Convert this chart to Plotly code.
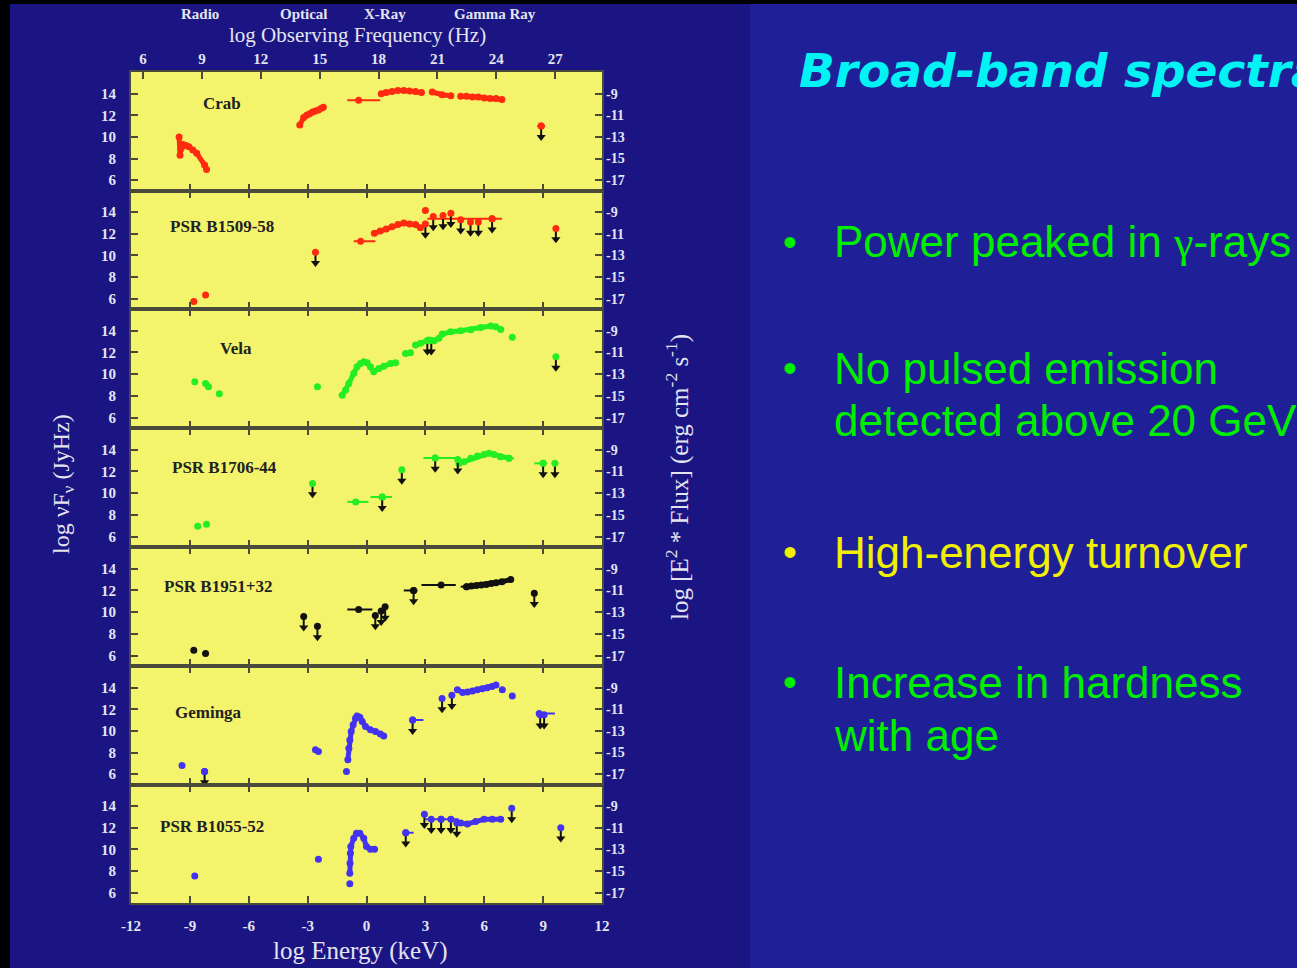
import plotly.graph_objects as go

# ---------------- data (log Energy keV, log nuFnu Jy Hz) ----------------
PANEL_NAMES = ["Crab", "PSR B1509-58", "Vela", "PSR B1706-44", "PSR B1951+32", "Geminga", "PSR B1055-52"]
PANEL_COLORS = ["#ff2a10", "#ff2a10", "#22ee22", "#22ee22", "#111111", "#4433ee", "#4433ee"]
LABEL_X = [-7.35, -7.35, -6.65, -7.25, -7.55, -8.05, -7.85]
LABEL_Y = [13.1, 12.65, 12.4, 12.4, 12.4, 11.7, 12.1]

E_TICKS = [-12, -9, -6, -3, 0, 3, 6, 9, 12]
E_TICKTEXT = ["-12", "-9", "-6", "-3", "0", "3", "6", "9", "12"]
NU_TICKS = [6, 9, 12, 15, 18, 21, 24, 27]
LEFT_TICKS = [14, 12, 10, 8, 6]
RIGHT_TICKS = [-9, -11, -13, -15, -17]
RIGHT_TICKTEXT = ["-9", "-11", "-13", "-15", "-17"]
BANDS = ["Radio", "Optical", "X-Ray", "Gamma Ray"]
BAND_NU = [8.9, 14.2, 18.35, 23.95]

# Crab
crab_x = [-9.55, -9.5, -9.45, -9.35, -9.2, -9.05, -8.85, -8.65, -8.25, -8.15, None,
          -3.4, -3.2, -3.05, -2.9, -2.75, -2.6, -2.45, -2.3, -2.2, None,
          0.75, 1.0, 1.3, 1.6, 1.9, 2.2, 2.5, 2.8, None, 3.35, 3.85, 4.3, None,
          4.8, 5.1, 5.4, 5.7, 6.0, 6.3, 6.6, 6.9]
crab_y = [10.0, 8.3, 8.9, 9.3, 9.2, 9.1, 8.8, 8.5, 7.4, 7.0, None,
          11.1, 11.8, 12.0, 12.15, 12.3, 12.4, 12.5, 12.65, 12.75, None,
          14.0, 14.1, 14.2, 14.3, 14.3, 14.25, 14.2, 14.1, None, 14.15, 13.9, 13.8, None,
          13.75, 13.75, 13.7, 13.7, 13.6, 13.55, 13.55, 13.45]
crab_bx = [-0.4, 8.9]
crab_by = [13.4, 11.0]
crab_blo = [0.58, 0.2]
crab_bhi = [1.1, 0.2]
crab_ulx = [8.9]
crab_uly = [11.0]

# PSR B1509-58
b1509_x = [-8.8, None, -8.2, None,
           0.4, 0.7, 1.0, 1.3, 1.6, 1.9, 2.2, 2.5, 2.75, None, 3.0]
b1509_y = [5.75, None, 6.35, None,
           12.05, 12.25, 12.45, 12.65, 12.85, 13.0, 12.9, 12.85, 12.55, None, 14.15]
b1509_bx = [-0.3, 6.4]
b1509_by = [11.3, 13.4]
b1509_blo = [0.35, 3.3]
b1509_bhi = [0.75, 0.5]
b1509_ulx = [-2.6, 3.0, 3.4, 3.9, 4.3, 4.8, 5.3, 5.7, 6.4, 9.65]
b1509_uly = [10.3, 12.9, 13.6, 13.7, 13.9, 13.3, 13.1, 13.1, 13.4, 12.5]

# Vela
vela_x = [-8.75, None, -8.2, -8.05, None, -7.5, None, -2.5, None,
          -1.24, -1.07, -0.9, -0.65, -0.48, -0.31, -0.14, 0.03, 0.2, 0.37, 0.63, 0.88, 1.22, 1.48, None,
          1.99, 2.24, None, 2.5, 2.76, 3.18, 3.44, 3.69, 3.86, 4.29, 4.8, 5.31, 5.82, 6.33, 6.58, 6.84, None, 7.43]
vela_y = [9.3, None, 9.15, 8.85, None, 8.2, None, 8.85, None,
          8.07, 8.53, 9.14, 10.07, 10.68, 10.99, 11.14, 11.05, 10.68, 10.22, 10.53, 10.74, 10.99, 11.05, None,
          11.9, 11.97, None, 12.68, 12.84, 13.14, 13.08, 13.3, 13.69, 13.9, 14.0, 14.1, 14.3, 14.43, 14.37, 14.12, None, 13.39]
vela_bx = []
vela_by = []
vela_blo = []
vela_bhi = []
vela_ulx = [3.1, 3.3, 9.65]
vela_uly = [13.1, 13.1, 11.6]

# PSR B1706-44
b1706_x = [-8.6, None, -8.15, None,
           4.71, 4.97, 5.31, 5.65, 5.99, 6.24, 6.5, 6.84, 7.26]
b1706_y = [6.95, None, 7.15, None,
           12.74, 12.9, 13.21, 13.42, 13.57, 13.67, 13.57, 13.36, 13.21]
b1706_bx = [-0.55, 0.8, 3.5, 7.26, 9.0]
b1706_by = [9.2, 9.65, 13.25, 13.21, 12.75]
b1706_blo = [0.42, 0.6, 0.6, 0.6, 0.45]
b1706_bhi = [0.65, 0.5, 1.1, 0.25, 0.2]
b1706_ulx = [-2.75, 0.8, 1.8, 3.5, 4.65, 9.0, 9.6]
b1706_uly = [10.9, 9.65, 12.15, 13.25, 13.1, 12.75, 12.75]

# PSR B1951+32
b1951_x = [-8.8, None, -8.2, None,
           5.1, 5.35, 5.6, 5.85, 6.1, 6.35, 6.6, 6.9, 7.35]
b1951_y = [6.5, None, 6.2, None,
           12.35, 12.4, 12.45, 12.5, 12.55, 12.65, 12.7, 12.8, 13.0]
b1951_bx = [-0.4, 2.4, 3.8, 5.1]
b1951_by = [10.25, 12.0, 12.5, 12.35]
b1951_blo = [0.58, 0.5, 1.0, 0.3]
b1951_bhi = [0.7, 0.2, 0.75, 0.0]
b1951_ulx = [-3.2, -2.5, 0.45, 0.75, 0.95, 2.4, 8.55]
b1951_uly = [9.6, 8.7, 9.7, 10.1, 10.5, 12.0, 11.75]

# Geminga
gem_x = [-9.4, None, -2.6, -2.45, None,
         -1.02, None, -0.95, -0.9, -0.85, -0.78, -0.68, -0.56, -0.48, -0.34, -0.22, -0.05, 0.2, 0.46, 0.71, 0.88, None,
         4.63, 4.9, 5.15, 5.4, 5.65, 5.9, 6.15, 6.4, 6.6, None, 6.92, None, 7.43]
gem_y = [6.8, None, 8.25, 8.1, None,
         6.25, None, 7.33, 8.41, 9.17, 9.94, 10.56, 11.17, 11.39, 11.27, 10.86, 10.4, 10.1, 9.94, 9.72, 9.53, None,
         13.8, 13.55, 13.6, 13.7, 13.8, 13.9, 14.0, 14.1, 14.25, None, 13.8, None, 13.23]
gem_bx = [-8.25, 2.35, 8.8]
gem_by = [6.25, 11.0, 11.6]
gem_blo = [0.15, 0.1, 0.1]
gem_bhi = [0.15, 0.55, 0.8]
gem_ulx = [-8.25, 2.35, 3.85, 4.35, 8.85, 9.05]
gem_uly = [6.25, 11.0, 13.0, 13.3, 11.5, 11.5]

# PSR B1055-52
b1055_x = [-8.75, None, -2.45, None,
           -0.85, None, -0.85, -0.84, -0.82, -0.8, -0.65, -0.51, -0.34, -0.14, 0.0, 0.2, 0.41, None,
           4.8, 5.14, 5.56, 5.99, 6.41, 6.84]
b1055_y = [7.55, None, 9.1, None,
           6.82, None, 7.8, 8.72, 9.65, 10.26, 11.03, 11.5, 11.5, 11.03, 10.26, 10.02, 10.02, None,
           12.45, 12.36, 12.57, 12.79, 12.79, 12.79]
b1055_bx = [2.0, 3.8]
b1055_by = [11.55, 12.8]
b1055_blo = [0.1, 0.8]
b1055_bhi = [0.4, 0.9]
b1055_ulx = [2.0, 2.95, 3.3, 3.8, 4.3, 4.6, 7.4, 9.9]
b1055_uly = [11.55, 13.25, 12.8, 12.8, 12.8, 12.45, 13.8, 12.0]

SERIES = [
    (crab_x, crab_y, crab_bx, crab_by, crab_blo, crab_bhi, crab_ulx, crab_uly),
    (b1509_x, b1509_y, b1509_bx, b1509_by, b1509_blo, b1509_bhi, b1509_ulx, b1509_uly),
    (vela_x, vela_y, vela_bx, vela_by, vela_blo, vela_bhi, vela_ulx, vela_uly),
    (b1706_x, b1706_y, b1706_bx, b1706_by, b1706_blo, b1706_bhi, b1706_ulx, b1706_uly),
    (b1951_x, b1951_y, b1951_bx, b1951_by, b1951_blo, b1951_bhi, b1951_ulx, b1951_uly),
    (gem_x, gem_y, gem_bx, gem_by, gem_blo, gem_bhi, gem_ulx, gem_uly),
    (b1055_x, b1055_y, b1055_bx, b1055_by, b1055_blo, b1055_bhi, b1055_ulx, b1055_uly),
]

# ---------------- layout constants ----------------
W, H = 1297, 968
EDGES = [72, 190.5, 309, 428, 547, 666, 784.5, 903]
XDOM = [131 / W, 602 / W]
YRANGE = [5.05, 16.0]
JYHZ_TO_CGS = -23.0      # log(1 Jy Hz) in erg cm^-2 s^-1
KEV_TO_LOGHZ = 17.383    # log(nu/Hz) at 1 keV
ARROW = 1.0

NAVY = "#1b1583"
BLUE = "#1f1f98"
YELLOW = "#f4f46c"
FRAME = "#4a4a3a"
TICKTXT = "#e4e4f0"
SERIF = "Liberation Serif, DejaVu Serif, serif"
SANS = "Liberation Sans, Arial, sans-serif"


def sid(n):
    return "" if n == 1 else str(n)


fig = go.Figure()
layout = dict(
    width=W, height=H, margin=dict(l=0, r=0, t=0, b=0, pad=0, autoexpand=False),
    paper_bgcolor="#000000", plot_bgcolor="rgba(0,0,0,0)",
    showlegend=False, shapes=[], annotations=[],
)

layout["shapes"].append(dict(type="rect", xref="paper", yref="paper", x0=10 / W, x1=750 / W,
                             y0=0, y1=1 - 4 / H, fillcolor=NAVY, line_width=0, layer="below"))
layout["shapes"].append(dict(type="rect", xref="paper", yref="paper", x0=750 / W, x1=1,
                             y0=0, y1=1 - 4 / H, fillcolor=BLUE, line_width=0, layer="below"))

for i in range(7):
    n = i + 1
    xa, ya, yra = "xaxis" + sid(n), "yaxis" + sid(n), "yaxis" + sid(n + 7)
    xr, yref, yrref = "x" + sid(n), "y" + sid(n), "y" + sid(n + 7)
    top, bot = EDGES[i], EDGES[i + 1]
    ydom = [1 - bot / H, 1 - top / H]
    layout[xa] = dict(
        domain=XDOM, anchor=yref, range=[-12, 12], tickvals=E_TICKS, ticktext=E_TICKTEXT,
        ticks="inside", ticklen=7, tickwidth=1.5, tickcolor=FRAME,
        showline=True, linecolor=FRAME, linewidth=2,
        mirror=True if i == 0 else "ticks",
        showgrid=False, zeroline=False, showticklabels=(i == 6), automargin=False,
        tickfont=dict(family=SERIF, size=15, color=TICKTXT, weight="bold"),
        ticklabelstandoff=8,
    )
    layout[ya] = dict(
        domain=ydom, anchor=xr, range=YRANGE, tickvals=LEFT_TICKS,
        ticks="inside", ticklen=7, tickwidth=1.5, tickcolor=FRAME,
        showline=True, linecolor=FRAME, linewidth=2, mirror=True,
        showgrid=False, zeroline=False, automargin=False,
        tickfont=dict(family=SERIF, size=15, color=TICKTXT, weight="bold"),
        ticklabelstandoff=10,
    )
    layout[yra] = dict(
        overlaying=yref, anchor=xr, side="right",
        range=[YRANGE[0] + JYHZ_TO_CGS, YRANGE[1] + JYHZ_TO_CGS],
        tickvals=RIGHT_TICKS, ticktext=RIGHT_TICKTEXT,
        ticks="inside", ticklen=7, tickwidth=1.5, tickcolor=FRAME,
        showline=False, showgrid=False, zeroline=False, automargin=False,
        tickfont=dict(family=SERIF, size=14, color=TICKTXT, weight="bold"),
        ticklabelstandoff=3,
    )
    # register the right-hand (erg cm^-2 s^-1) axis with an empty trace so it is drawn
    fig.add_trace(go.Scatter(x=[None], y=[None], xaxis=xr, yaxis=yrref, hoverinfo="skip"))
    layout["shapes"].append(dict(type="rect", xref=f"{xr} domain", yref=f"{yref} domain",
                                 x0=0, x1=1, y0=0, y1=1, fillcolor=YELLOW, line_width=0, layer="below"))

    color = PANEL_COLORS[i]
    sx, sy, bx, by, blo, bhi, ulx, uly = SERIES[i]
    fig.add_trace(go.Scatter(x=sx, y=sy, xaxis=xr, yaxis=yref, mode="lines+markers",
                             line=dict(color=color, width=5), marker=dict(color=color, size=7),
                             connectgaps=False, hoverinfo="skip"))
    if bx:
        fig.add_trace(go.Scatter(x=bx, y=by, xaxis=xr, yaxis=yref, mode="markers",
                                 marker=dict(color=color, size=7),
                                 error_x=dict(type="data", symmetric=False, array=bhi, arrayminus=blo,
                                              color=color, thickness=2, width=0),
                                 hoverinfo="skip"))
    if ulx:
        fig.add_trace(go.Scatter(x=ulx, y=[v - ARROW for v in uly], xaxis=xr, yaxis=yref, mode="markers",
                                 marker=dict(color="#111111", size=8, symbol="triangle-down"),
                                 error_y=dict(type="data", symmetric=False, array=[ARROW] * len(ulx),
                                              arrayminus=[0] * len(ulx), color="#111111",
                                              thickness=2, width=0),
                                 hoverinfo="skip"))
        fig.add_trace(go.Scatter(x=ulx, y=uly, xaxis=xr, yaxis=yref, mode="markers",
                                 marker=dict(color=color, size=7), hoverinfo="skip"))
    layout["annotations"].append(dict(
        x=LABEL_X[i], y=LABEL_Y[i], xref=xr, yref=yref, text=PANEL_NAMES[i], showarrow=False,
        font=dict(family=SERIF, size=17, color="#222222", weight="bold"), xanchor="center", yanchor="middle"))

# top frequency axis
layout["xaxis15"] = dict(
    overlaying="x", anchor="y", side="top",
    range=[-12 + KEV_TO_LOGHZ, 12 + KEV_TO_LOGHZ], tickvals=NU_TICKS,
    ticks="inside", ticklen=7, tickwidth=1.5, tickcolor=FRAME,
    showline=False, showgrid=False, zeroline=False, automargin=False,
    tickfont=dict(family=SERIF, size=15, color=TICKTXT, weight="bold"),
    ticklabelstandoff=4,
)
fig.add_trace(go.Scatter(x=[None], y=[None], xaxis="x15", yaxis="y", hoverinfo="skip"))

for name, nu in zip(BANDS, BAND_NU):
    layout["annotations"].append(dict(
        x=nu, y=1 - 14 / H, xref="x15", yref="paper", text=name, showarrow=False,
        font=dict(family=SERIF, size=15, color=TICKTXT, weight="bold"), xanchor="center", yanchor="middle"))

layout["annotations"] += [
    dict(x=357 / W, y=1 - 35 / H, xref="paper", yref="paper", text="log Observing Frequency (Hz)",
         showarrow=False, font=dict(family=SERIF, size=21, color=TICKTXT), xanchor="center", yanchor="middle"),
    dict(x=360 / W, y=1 - 951 / H, xref="paper", yref="paper", text="log Energy (keV)",
         showarrow=False, font=dict(family=SERIF, size=25, color=TICKTXT), xanchor="center", yanchor="middle"),
    dict(x=63 / W, y=1 - 484 / H, xref="paper", yref="paper", text="log νF<sub>ν</sub> (JyHz)",
         textangle=-90, showarrow=False, font=dict(family=SERIF, size=24, color=TICKTXT),
         xanchor="center", yanchor="middle"),
    dict(x=677 / W, y=1 - 477 / H, xref="paper", yref="paper",
         text="log [E<sup>2</sup> * Flux] (erg cm<sup>-2</sup> s<sup>-1</sup>)",
         textangle=-90, showarrow=False, font=dict(family=SERIF, size=25, color=TICKTXT),
         xanchor="center", yanchor="middle"),
    dict(x=797 / W, y=1 - 70 / H, xref="paper", yref="paper", text="Broad-band spectra",
         showarrow=False, font=dict(family="DejaVu Sans", size=47, color="#00f4f4", weight="bold", style="italic"),
         xanchor="left", yanchor="middle"),
]

BULLETS = [
    ("Power peaked in <span style='font-family:Liberation Serif'>γ</span>-rays", 242, "#00ee00", True),
    ("No pulsed emission", 368, "#00ee00", True),
    ("detected above 20 GeV", 420, "#00ee00", False),
    ("High-energy turnover", 552, "#f0f000", True),
    ("Increase in hardness", 682, "#00ee00", True),
    ("with age", 735, "#00ee00", False),
]
for text, yy, col, dot in BULLETS:
    layout["annotations"].append(dict(
        x=832 / W, y=1 - yy / H, xref="paper", yref="paper", text=text, showarrow=False,
        font=dict(family=SANS, size=44, color=col), xanchor="left", yanchor="middle"))
    if dot:
        layout["annotations"].append(dict(
            x=790 / W, y=1 - yy / H, xref="paper", yref="paper", text="•", showarrow=False,
            font=dict(family=SANS, size=40, color=col), xanchor="center", yanchor="middle"))

fig.update_layout(**layout)
fig.write_html("out.html")
